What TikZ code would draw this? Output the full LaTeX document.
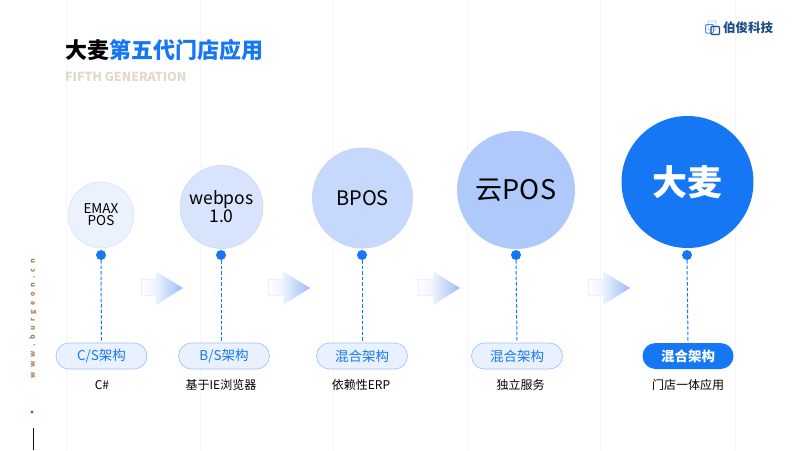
\documentclass[tikz,border=0pt]{standalone}
\usepackage{fontspec}
\setmainfont{Noto Sans CJK SC}
\definecolor{brand}{HTML}{1677F5}
\definecolor{pillfill}{HTML}{EAF1FE}
\definecolor{pilledge}{HTML}{A6C4F8}
\definecolor{faint}{HTML}{F5F6F8}
\definecolor{c1}{HTML}{EBF1FD}
\definecolor{c2}{HTML}{D7E4FC}
\definecolor{c3}{HTML}{C6D8FB}
\definecolor{c4}{HTML}{AEC9FA}
\definecolor{c1e}{HTML}{DCE7FB}
\definecolor{c2e}{HTML}{CCDCFA}
\definecolor{navy}{HTML}{1D4E89}
\definecolor{subtitle}{HTML}{E2D8CC}
\definecolor{sidetext}{HTML}{A87C50}
\definecolor{arrowedge}{HTML}{E9F0FD}
\definecolor{arrowbase}{HTML}{EDF3FE}
\definecolor{arrowtip}{HTML}{9DBBF8}
\tikzset{
  x=1pt,y=-1pt,
  gridline/.style={faint,line width=.8pt},
  circ/.style={circle,inner sep=0pt,align=center,text=black},
  dotnode/.style={circle,fill=brand,minimum size=10pt,inner sep=0pt},
  link/.style={brand,line width=1pt,dash pattern=on 3.5pt off 2pt},
  pill/.style={rounded corners=13pt,minimum width=91pt,minimum height=26pt,inner sep=0pt,fill=pillfill,draw=pilledge,line width=.7pt,text=brand,font=\fontsize{13.5}{13}\selectfont},
  pillon/.style={rounded corners=13pt,minimum width=91pt,minimum height=26pt,inner sep=0pt,fill=brand,text=white,font=\fontsize{13.5}{13}\selectfont\bfseries},
  captext/.style={text=black,font=\fontsize{12}{12}\selectfont,inner sep=0pt},
}
\newcommand{\flowarrow}[1]{%
  \shade[left color=white,right color=arrowbase,draw=arrowedge,line width=.6pt]
    (#1,279.5) -- (#1+15,279.5) -- (#1+15,295) -- (#1,295) -- cycle;
  \shade[left color=arrowbase,right color=arrowtip]
    (#1+15,271.5) -- (#1+42,288) -- (#1+15,305) -- cycle;
}
\begin{document}
\begin{tikzpicture}
\useasboundingbox (0,0) rectangle (800,450);
\fill[white] (0,0) rectangle (800,450);
\foreach \gx in {66,200,333,467,600,735} \draw[gridline] (\gx,0) -- (\gx,450);

\node[anchor=west,inner sep=0pt,font=\fontsize{22}{22}\selectfont\bfseries] (title) at (65,50) {\textcolor{black}{大麦}\textcolor{brand}{第五代门店应用}};
\node[anchor=west,inner sep=0pt,text=subtitle,font=\fontsize{12.4}{12}\selectfont\bfseries] (sub) at (65,77) {FIFTH GENERATION};

% logo
\draw[pilledge,line width=.9pt,rounded corners=1pt] (708,21) rectangle (716,30);
\draw[brand!80,line width=1pt,rounded corners=1pt] (705.5,24.5) rectangle (713.5,33);
\draw[navy,line width=1.1pt,rounded corners=1pt] (711,26.5) rectangle (719.5,34.5);
\node[anchor=west,inner sep=0pt,text=navy,font=\fontsize{12.5}{13}\selectfont\bfseries] (brandname) at (723,28) {伯俊科技};

% side text
\node[rotate=90,inner sep=0pt,text=sidetext,font=\fontsize{7}{7}\selectfont\bfseries] (site) at (33,319) {w\hspace{4.4pt}w\hspace{4.4pt}w\hspace{4.4pt}.\hspace{4.4pt}b\hspace{4.4pt}u\hspace{4.4pt}r\hspace{4.4pt}g\hspace{4.4pt}e\hspace{4.4pt}o\hspace{4.4pt}n\hspace{4.4pt}.\hspace{4.4pt}c\hspace{4.4pt}n};
\fill[brand] (32,412) circle (1.7);
\draw[black!80!navy,line width=1pt] (33.5,428) -- (33.5,450);

% arrows
\flowarrow{141}
\flowarrow{268}
\flowarrow{418}
\flowarrow{588}

% circles
\node[circ,fill=c1,draw=c1e,line width=.7pt,minimum size=66pt,font=\fontsize{13.5}{12}\selectfont] (n1) at (101,215) {EMAX\\POS};
\node[circ,fill=c2,draw=c2e,line width=.7pt,minimum size=83pt,font=\fontsize{17.5}{15}\selectfont] (n2) at (221.5,207) {webpos\\1.0};
\node[circ,fill=c3,minimum size=101pt,font=\fontsize{20}{20}\selectfont] (n3) at (362.5,198) {BPOS};
\node[circ,fill=c4,minimum size=118pt,font=\fontsize{27}{27}\selectfont] (n4) at (516,190) {云POS};
\node[circ,fill=brand,text=white,minimum size=132pt,font=\fontsize{35}{35}\selectfont\bfseries] (n5) at (687.5,182) {大麦};

% pills
\node[pill] (p1) at (101.5,356) {C/S架构};
\node[pill] (p2) at (224,356) {B/S架构};
\node[pill] (p3) at (362,356) {混合架构};
\node[pill] (p4) at (517,356) {混合架构};
\node[pillon] (p5) at (688,356) {混合架构};

% dots
\node[dotnode] (d1) at (101,255) {};
\node[dotnode] (d2) at (221,255) {};
\node[dotnode] (d3) at (362,255) {};
\node[dotnode] (d4) at (516,255) {};
\node[dotnode] (d5) at (687,255) {};

\draw[link] (d1.south) -- (p1.north);
\draw[link] (d2.south) -- (p2.north -| d2.south);
\draw[link] (d3.south) -- (p3.north);
\draw[link] (d4.south) -- (p4.north);
\draw[link] (d5.south) -- (p5.north);

% captions
\node[captext] (t1) at (102,385) {C\#};
\node[captext] (t2) at (221,385) {基于IE浏览器};
\node[captext] (t3) at (361,385) {依赖性ERP};
\node[captext] (t4) at (520.5,385) {独立服务};
\node[captext] (t5) at (688,385) {门店一体应用};
\end{tikzpicture}
\end{document}
